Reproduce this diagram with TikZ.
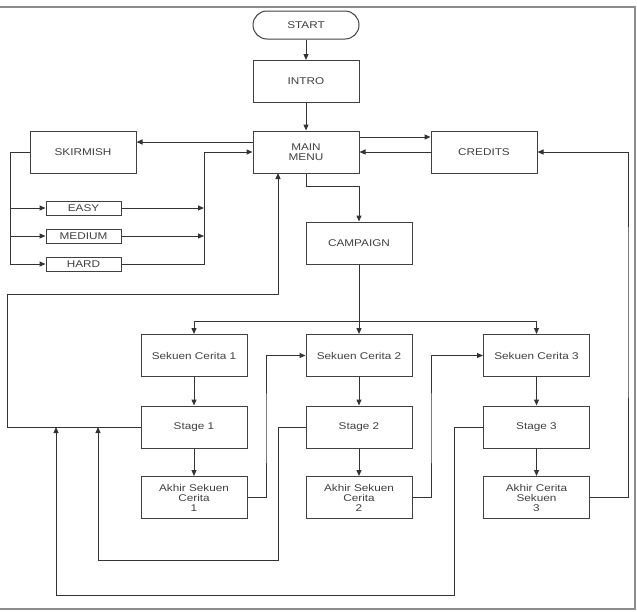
\documentclass[tikz,border=0pt]{standalone}
\usepackage{fontspec}
\setmainfont{Liberation Sans}[FakeStretch=1.2]
\usepackage{tikz}
\usepackage{xcolor}
\usetikzlibrary{arrows.meta}

\tikzset{
  box/.style={draw=black!75,line width=1pt,minimum width=106pt,minimum height=42pt,
    inner sep=1pt,align=center,text=black!75,font=\fontsize{9.8}{10}\selectfont},
  lvlbox/.style={box,minimum width=75pt,minimum height=14pt},
  termbox/.style={box,minimum height=28pt,rounded corners=14pt},
  flow/.style={draw=black!80,line width=1pt},
  >={Triangle[length=6pt,width=5pt]}
}

\begin{document}
\begin{tikzpicture}[x=1pt,y=-1pt]
  \useasboundingbox (0,0) rectangle (637,611);
  \draw[black!45,line width=2pt] (0,7) -- (635,7) -- (635,609) -- (0,609);

  \node[termbox] (start) at (306,25) {START};
  \node[box] (intro) at (306,81.5) {INTRO};
  \node[box] (menu) at (306,152) {MAIN\\MENU};
  \node[box] (skirmish) at (83,152) {SKIRMISH};
  \node[box] (credits) at (484,152) {CREDITS};
  \node[lvlbox] (easy) at (83.5,208) {EASY};
  \node[lvlbox] (medium) at (83.5,236) {MEDIUM};
  \node[lvlbox] (hard) at (83.5,264) {HARD};
  \node[box] (campaign) at (359,243) {CAMPAIGN};

  \node[box] (sc1) at (194,355.5) {Sekuen Cerita 1};
  \node[box] (sc2) at (359,355.5) {Sekuen Cerita 2};
  \node[box] (sc3) at (536.5,355.5) {Sekuen Cerita 3};
  \node[box] (st1) at (194,427) {Stage 1};
  \node[box] (st2) at (359,427) {Stage 2};
  \node[box] (st3) at (536.5,427) {Stage 3};
  \node[box] (ak1) at (194,497.5) {Akhir Sekuen\\Cerita\\1};
  \node[box] (ak2) at (359,497.5) {Akhir Sekuen\\Cerita\\2};
  \node[box] (ak3) at (536.5,497.5) {Akhir Cerita\\Sekuen\\3};

  \coordinate (skl) at (10,264);
  \coordinate (jn) at (204,264);
  \coordinate (mc) at (306,186);
  \coordinate (br) at (359,321);
  \coordinate (lp1) at (7,294);
  \coordinate (lp2) at (278,560);
  \coordinate (lp3) at (454,595);
  \coordinate (up1) at (278,173);
  \coordinate (up2) at (98,427);
  \coordinate (up3) at (56,427);

  \draw[flow,->] (start) -- (intro);
  \draw[flow,->] (intro) -- (menu);
  \draw[flow,->] ([yshift=10pt]menu.west) -- ([yshift=10pt]skirmish.east);
  \draw[flow,->] ([yshift=15pt]menu.east) -- ([yshift=15pt]credits.west);
  \draw[flow,->] (credits) -- (menu);

  \draw[flow,->] (skirmish.west) -| (skl) -- (hard.west);
  \draw[flow,->] (skl |- easy) -- (easy.west);
  \draw[flow,->] (skl |- medium) -- (medium.west);
  \draw[flow,->] (easy.east) -- (jn |- easy);
  \draw[flow,->] (medium.east) -- (jn |- medium);
  \draw[flow,->] (hard.east) -- (jn) |- (menu.west);

  \draw[flow,->] (menu.south) -- (mc) -| (campaign.north);
  \draw[flow,->] (campaign.south) -- (sc2.north);
  \draw[flow,->] (br) -| (sc1.north);
  \draw[flow,->] (br) -| (sc3.north);

  \draw[flow,->] (sc1) -- (st1);
  \draw[flow,->] (sc2) -- (st2);
  \draw[flow,->] (sc3) -- (st3);
  \draw[flow,->] (st1) -- (ak1);
  \draw[flow,->] (st2) -- (ak2);
  \draw[flow,->] (st3) -- (ak3);

  \draw[flow,->] (ak1.east) -| (266,430) |- (sc2.west);
  \draw[flow,->] (ak2.east) -| (431,430) |- (sc3.west);
  \draw[flow,->] (ak3.east) -| (628,300) |- (credits.east);

  \draw[flow,->] (st1.west) -| (lp1) -| (up1);
  \draw[flow,->] (st2.west) -| (lp2) -| (up2);
  \draw[flow,->] (st3.west) -| (lp3) -| (up3);
\end{tikzpicture}
\end{document}
